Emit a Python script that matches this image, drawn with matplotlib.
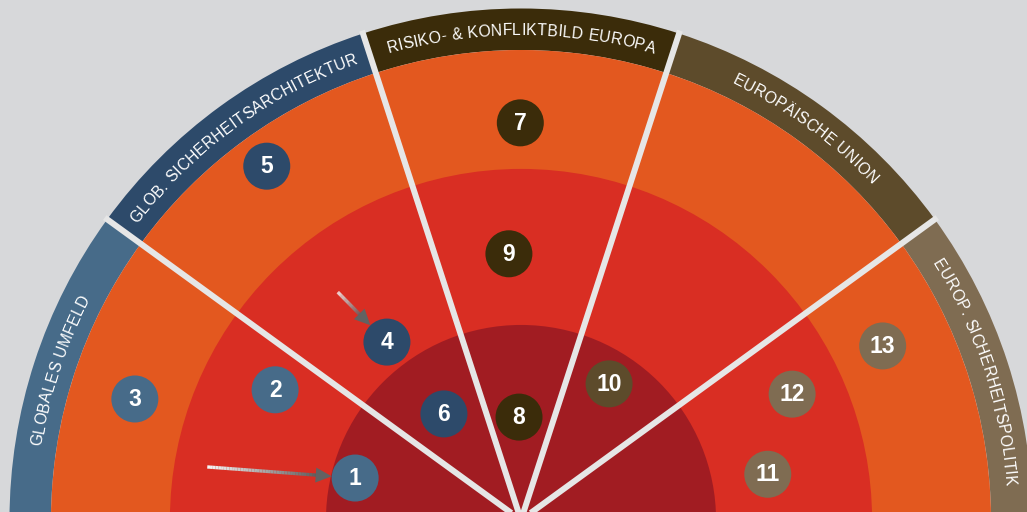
import numpy as np
import matplotlib
matplotlib.use("Agg")
import matplotlib.pyplot as plt
from matplotlib.patches import Wedge, Circle, Polygon
from matplotlib.collections import LineCollection
from matplotlib.font_manager import FontProperties
import matplotlib.colors as mcolors

# ---------------- data ----------------
# sectors ordered from the left (180°) to the right (0°), each 36° wide
categories = ["GLOBALES UMFELD", "GLOB. SICHERHEITSARCHITEKTUR",
              "RISIKO- & KONFLIKTBILD EUROPA", "EUROPÄISCHE UNION",
              "EUROP. SICHERHEITSPOLITIK"]
marker_ids = [1, 2, 3, 4, 5, 6, 7, 8, 9, 10, 11, 12, 13]
marker_category = [0, 0, 0, 1, 1, 1, 2, 2, 2, 3, 4, 4, 4]
marker_angle = [165.8, 152.1, 162.6, 127.0, 125.7, 126.0, 90.1, 91.1, 92.6,
                57.1, 10.5, 24.9, 25.7]
marker_radius = [0.364, 0.592, 0.861, 0.474, 0.927, 0.279, 0.845, 0.219,
                 0.567, 0.345, 0.534, 0.636, 0.854]
# movement arrows: previous position of a marker
arrow_ids = [1, 4]
arrow_from_angle = [170.4, 128.8]
arrow_from_radius = [0.677, 0.622]
# ring boundaries (fraction of the outer ring radius)
ring_bounds = [0.415, 0.747, 1.0]

# ---------------- style ----------------
BG = "#d7d8da"
band_colors = ["#476b89", "#2d4a6a", "#3b2c0a", "#5d4b2b", "#7f6c52"]
ring_colors = ["#a11c22", "#d92e23", "#e3581f"]
LINE_C = "#e6e6e6"
R_OUT = 470.0          # outer radius of orange ring (pixels)
BAND_W = 41.5
MARK_R = 23.5

fig = plt.figure(figsize=(10.27, 5.12), dpi=100, facecolor=BG)
ax = fig.add_axes([0, 0, 1, 1])
ax.set_xlim(-521, 506)
ax.set_ylim(8, 520)
ax.axis("off")
ax.set_facecolor(BG)

n_sec = len(categories)
sec_w = 180.0 / n_sec

# outer band segments
for i in range(n_sec):
    th2 = 180 - i * sec_w
    th1 = th2 - sec_w
    ax.add_patch(Wedge((0, 0), R_OUT + BAND_W, th1, th2, width=BAND_W,
                       facecolor=band_colors[i], edgecolor="none"))
# rings (outer to inner)
for rb, col in zip(ring_bounds[::-1], ring_colors[::-1]):
    ax.add_patch(Wedge((0, 0), rb * R_OUT, 0, 180, facecolor=col,
                       edgecolor="none"))
# dividers
for i in range(1, n_sec):
    a = np.radians(180 - i * sec_w)
    rr = R_OUT + BAND_W + 3
    ax.plot([0, rr * np.cos(a)], [0, rr * np.sin(a)], color=LINE_C, lw=4.3,
            solid_capstyle="butt", zorder=3)

# curved labels
fig.canvas.draw()
renderer = fig.canvas.get_renderer()
fp = FontProperties(family=["Liberation Sans", "DejaVu Sans"], size=11.3)


def tw(s):
    return renderer.get_text_width_height_descent(s, fp, ismath=False)[0]


def curved_text(text, mid_deg, radius, color, spacing=0.3):
    base = tw("HH")
    adv = [tw("H" + c + "H") - base for c in text]
    total = sum(adv) + spacing * (len(text) - 1)
    s = -total / 2
    for c, a in zip(text, adv):
        sc = s + a / 2
        ang = mid_deg - np.degrees(sc / radius)
        r = np.radians(ang)
        if c != " ":
            ax.text(radius * np.cos(r), radius * np.sin(r), c, fontproperties=fp,
                    color=color, rotation=ang - 90, rotation_mode="anchor",
                    ha="center", va="baseline", zorder=4)
        s += a + spacing


for i, name in enumerate(categories):
    mid = 180 - (i + 0.5) * sec_w
    curved_text(name, mid, R_OUT + 15, "white")

# arrows
id_index = {m: k for k, m in enumerate(marker_ids)}
for aid, fa, fr in zip(arrow_ids, arrow_from_angle, arrow_from_radius):
    k = id_index[aid]
    ta = np.radians(marker_angle[k])
    tr = marker_radius[k] * R_OUT
    tx, ty = tr * np.cos(ta), tr * np.sin(ta)
    fa_r = np.radians(fa)
    sx, sy = fr * R_OUT * np.cos(fa_r), fr * R_OUT * np.sin(fa_r)
    d = np.array([tx - sx, ty - sy])
    L = np.hypot(*d)
    u = d / L
    tip = np.array([tx, ty]) - u * MARK_R
    head_len, head_hw = 16, 7.5
    hb = tip - u * head_len
    n = 40
    pts = np.linspace([sx, sy], hb + u * 2, n + 1)
    segs = np.stack([pts[:-1], pts[1:]], axis=1)
    c0 = np.array(mcolors.to_rgb("#f6f6f6"))
    c1 = np.array(mcolors.to_rgb("#5e5e5e"))
    cols = [c0 + (c1 - c0) * t for t in np.linspace(0, 1, n)]
    ax.add_collection(LineCollection(segs, colors=cols, linewidths=2.4,
                                     capstyle="butt", zorder=5))
    perp = np.array([-u[1], u[0]])
    ax.add_patch(Polygon([tip, hb + perp * head_hw, hb - perp * head_hw],
                         closed=True, facecolor="#626262", edgecolor="none",
                         zorder=5))

# markers
for mid_, cat, ang, rad in zip(marker_ids, marker_category, marker_angle,
                               marker_radius):
    a = np.radians(ang)
    x, y = rad * R_OUT * np.cos(a), rad * R_OUT * np.sin(a)
    ax.add_patch(Circle((x, y), MARK_R, facecolor=band_colors[cat],
                        edgecolor="none", zorder=6))
    ax.text(x, y - 0.5, str(mid_), color="white", fontsize=16.5,
            fontweight="bold", family=["Liberation Sans", "DejaVu Sans"],
            ha="center", va="center", zorder=7)

fig.savefig("out.png", dpi=100, facecolor=BG)
